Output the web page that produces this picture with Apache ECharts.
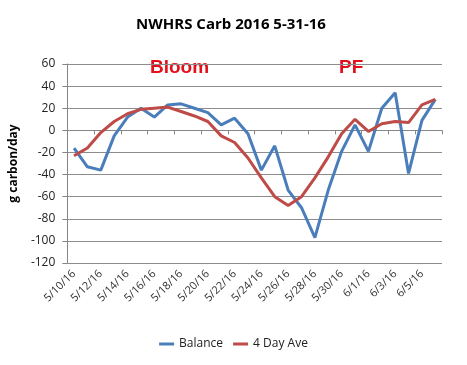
<!DOCTYPE html>
<html>
<head>
<meta charset="utf-8">
<script src="https://cdn.jsdelivr.net/npm/echarts@6/dist/echarts.min.js"></script>
<style>
html,body{margin:0;padding:0;background:#fff;}
#chart{width:467px;height:365px;}
</style>
</head>
<body>
<div id="chart"></div>
<script>
var categories = ['5/10/16','5/11/16','5/12/16','5/13/16','5/14/16','5/15/16','5/16/16','5/17/16','5/18/16','5/19/16','5/20/16','5/21/16','5/22/16','5/23/16','5/24/16','5/25/16','5/26/16','5/27/16','5/28/16','5/29/16','5/30/16','5/31/16','6/1/16','6/2/16','6/3/16','6/4/16','6/5/16','6/6/16'];
var balance = [-16,-33,-36,-5,12,20,12,23,24,20,16,5,11,-3,-36,-14,-54,-70,-97,-54,-19,5,-19,20,34,-39,9,28];
var dayAve4 = [-23,-16,-2,8,15,19,20,21,17,13,8,-5,-11,-25,-43,-60,-68,-60,-43,-24,-3,10,-1,6,8,7,23,28];
var yTicks = {min:-120, max:60, interval:20};

var chart = echarts.init(document.getElementById('chart'));
chart.setOption({
  animation:false,
  backgroundColor:'#fff',
  title:{text:'NWHRS Carb 2016 5-31-16', left:226, textAlign:'center', top:12,
    textStyle:{fontFamily:'Open Sans', fontWeight:'bold', fontSize:15, color:'#000'}},
  grid:{left:53, right:25, top:64, bottom:102},
  legend:{bottom:10, left:'center', itemWidth:15, itemHeight:3, itemGap:10, icon:'rect',
    textStyle:{fontFamily:'Open Sans', fontSize:12, color:'#222'},
    data:['Balance','4 Day Ave']},
  xAxis:{type:'category', data:categories, boundaryGap:true,
    axisLine:{lineStyle:{color:'#868686', width:1}},
    axisTick:{show:true, interval:1, length:4, lineStyle:{color:'#868686'}},
    axisLabel:{interval:1, rotate:45, margin:9, fontFamily:'Open Sans', fontSize:11, color:'#333'},
    splitLine:{show:false}},
  yAxis:{type:'value', min:yTicks.min, max:yTicks.max, interval:yTicks.interval,
    name:'g carbon/day', nameLocation:'middle', nameGap:31, nameRotate:90,
    nameTextStyle:{fontFamily:'Open Sans', fontWeight:'bold', fontSize:12, color:'#000'},
    axisLine:{show:true, lineStyle:{color:'#868686'}},
    axisTick:{show:true, length:5, lineStyle:{color:'#868686'}},
    axisLabel:{margin:12, fontFamily:'Open Sans', fontSize:12, color:'#222'},
    splitLine:{lineStyle:{color:'#8c8c8c', width:1}}},
  graphic:[
    {type:'text', left:150, top:58, style:{text:'Bloom', fontFamily:'Liberation Sans', fontWeight:'bold', fontSize:19, fill:'#e3101b'}},
    {type:'text', left:339, top:58, style:{text:'PF', fontFamily:'Liberation Sans', fontWeight:'bold', fontSize:19, fill:'#e3101b'}}
  ],
  series:[
    {name:'Balance', type:'line', data:balance, showSymbol:false, symbol:'none',
      lineStyle:{color:'#4a7ebb', width:3}, itemStyle:{color:'#4a7ebb'}},
    {name:'4 Day Ave', type:'line', data:dayAve4, showSymbol:false, symbol:'none',
      lineStyle:{color:'#be4b48', width:3}, itemStyle:{color:'#be4b48'}}
  ]
});
</script>
</body>
</html>
